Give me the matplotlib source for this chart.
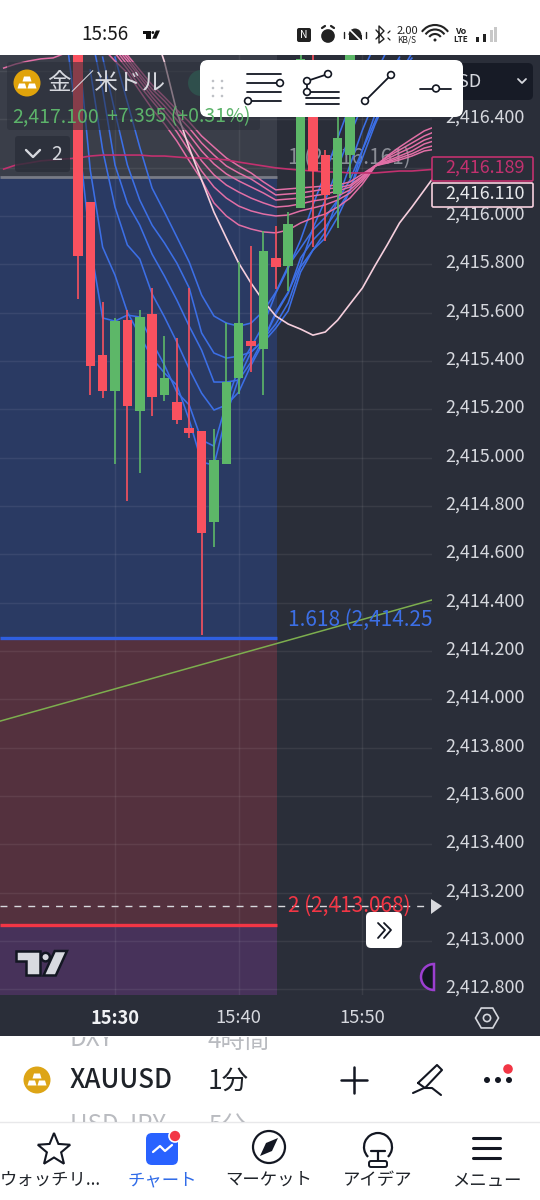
import matplotlib
matplotlib.use('Agg')
import numpy as np
import matplotlib.pyplot as plt
from matplotlib.patches import Rectangle, FancyBboxPatch, Circle, Polygon, Arc, Wedge
from matplotlib.transforms import ScaledTranslation

plt.rcParams['font.family'] = ['Noto Sans CJK JP', 'DejaVu Sans']

# candles, one per minute (minutes after 15:00)
candle_min = list(range(27, 50))
opens = [2416.728, 2416.058, 2415.425, 2415.276, 2415.569, 2415.193, 2415.594, 2415.259, 2415.230, 2415.122, 2415.110, 2414.734,
         2414.974, 2415.329, 2415.482, 2415.449, 2415.826, 2415.793, 2416.033, 2416.645, 2416.252, 2416.091, 2416.252]
closes = [2415.834, 2415.379, 2415.276, 2415.565, 2415.214, 2415.582, 2415.251, 2415.329, 2415.156, 2415.102, 2414.688, 2414.990,
          2415.313, 2415.557, 2415.462, 2415.855, 2415.789, 2415.967, 2416.649, 2416.186, 2416.086, 2416.322, 2416.707]
highs = [2416.728, 2416.058, 2415.644, 2415.578, 2415.611, 2415.611, 2415.702, 2415.503, 2415.495, 2415.702, 2415.110, 2415.118,
         2415.557, 2415.809, 2415.875, 2415.938, 2415.958, 2416.016, 2416.666, 2416.666, 2416.273, 2416.480, 2416.728]
lows = [2415.656, 2415.259, 2415.247, 2414.974, 2414.820, 2414.936, 2415.172, 2415.234, 2415.139, 2415.081, 2414.266, 2414.630,
        2414.974, 2415.263, 2415.354, 2415.259, 2415.698, 2415.689, 2416.033, 2415.871, 2415.896, 2415.950, 2416.157]

# fast moving averages (blue), value per minute from the given start minute
blue_start = [26, 27, 28, 28, 29, 30]
blue_a = [2416.769, 2416.355, 2415.880, 2415.578, 2415.565, 2415.590, 2415.582, 2415.478, 2415.383, 2415.271, 2415.218, 2415.073, 2415.048,
          2415.226, 2415.371, 2415.458, 2415.549, 2415.681, 2415.784, 2415.900, 2416.045, 2416.177, 2416.322, 2416.459, 2416.595, 2416.707]
blue_b = [2416.728, 2416.190, 2415.871, 2415.755, 2415.602, 2415.507, 2415.412, 2415.350, 2415.300, 2415.156, 2414.982, 2414.969,
          2415.176, 2415.329, 2415.437, 2415.487, 2415.602, 2415.685, 2415.797, 2415.950, 2416.066, 2416.198, 2416.335, 2416.459, 2416.583, 2416.686]
blue_c = [2416.604, 2416.273, 2416.037, 2415.880, 2415.822, 2415.677, 2415.582, 2415.478, 2415.367, 2415.267, 2415.197, 2415.218,
          2415.271, 2415.383, 2415.478, 2415.536, 2415.607, 2415.768, 2415.859, 2415.933, 2416.066, 2416.211, 2416.355, 2416.480, 2416.571, 2416.657]
blue_d = [2416.769, 2416.521, 2416.211, 2416.053, 2415.962, 2415.842, 2415.751, 2415.652, 2415.544, 2415.445, 2415.313, 2415.313,
          2415.321, 2415.396, 2415.491, 2415.553, 2415.640, 2415.789, 2415.859, 2415.909, 2415.995, 2416.107, 2416.273, 2416.417, 2416.533, 2416.645]
blue_e = [2416.657, 2416.430, 2416.211, 2416.066, 2415.962, 2415.888, 2415.805, 2415.702, 2415.516, 2415.433, 2415.412, 2415.420,
          2415.437, 2415.487, 2415.594, 2415.681, 2415.826, 2415.900, 2415.954, 2416.024, 2416.107, 2416.240, 2416.376, 2416.492, 2416.587, 2416.674]
blue_f = [2416.657, 2416.471, 2416.285, 2416.115, 2416.016, 2415.913, 2415.809, 2415.673, 2415.586, 2415.557, 2415.544, 2415.557,
          2415.607, 2415.685, 2415.793, 2415.867, 2415.942, 2415.995, 2416.066, 2416.149, 2416.273, 2416.389, 2416.500, 2416.595, 2416.653]
blue_lines = [blue_a, blue_b, blue_c, blue_d, blue_e, blue_f]

# slower averages (pink)
pink_start = [29, 30, 30, 30, 29, 21]
pink_a = [2416.695, 2416.641, 2416.592, 2416.517, 2416.443, 2416.381, 2416.310, 2416.228, 2416.149, 2416.054, 2416.000, 2415.963, 2415.946, 2415.934,
          2415.930, 2415.942, 2415.971, 2415.992, 2416.008, 2416.037, 2416.074, 2416.132, 2416.203, 2416.248, 2416.285, 2416.319, 2416.352, 2416.372]
pink_b = [2416.674, 2416.608, 2416.538, 2416.476, 2416.414, 2416.348, 2416.269, 2416.186, 2416.120, 2416.074, 2416.041, 2416.021, 2416.008, 2416.000,
          2416.004, 2416.021, 2416.033, 2416.046, 2416.066, 2416.095, 2416.145, 2416.207, 2416.244, 2416.273, 2416.302, 2416.331, 2416.352]
pink_c = [2416.691, 2416.625, 2416.559, 2416.492, 2416.434, 2416.372, 2416.302, 2416.228, 2416.170, 2416.128, 2416.099, 2416.074, 2416.054, 2416.037,
          2416.041, 2416.050, 2416.062, 2416.070, 2416.083, 2416.108, 2416.153, 2416.207, 2416.236, 2416.261, 2416.285, 2416.314, 2416.331]
pink_d = [2416.703, 2416.641, 2416.575, 2416.509, 2416.455, 2416.397, 2416.335, 2416.269, 2416.215, 2416.174, 2416.145, 2416.120, 2416.095, 2416.066,
          2416.070, 2416.074, 2416.083, 2416.091, 2416.103, 2416.120, 2416.161, 2416.207, 2416.228, 2416.248, 2416.269, 2416.298, 2416.314]
pink_e = [2416.765, 2416.716, 2416.654, 2416.587, 2416.525, 2416.476, 2416.418, 2416.364, 2416.302, 2416.252, 2416.207, 2416.178, 2416.153, 2416.120, 2416.087,
          2416.091, 2416.095, 2416.103, 2416.112, 2416.116, 2416.128, 2416.165, 2416.207, 2416.223, 2416.240, 2416.257, 2416.281, 2416.294]
pink_f = [2416.612, 2416.629, 2416.641, 2416.650, 2416.654, 2416.674, 2416.691, 2416.699, 2416.703, 2416.699, 2416.666, 2416.604, 2416.542, 2416.492, 2416.439,
          2416.389, 2416.331, 2416.285, 2416.240, 2416.207, 2416.178, 2416.141, 2416.108, 2416.112, 2416.116, 2416.120, 2416.124, 2416.128, 2416.141, 2416.174,
          2416.207, 2416.219, 2416.232, 2416.248, 2416.269, 2416.277]
pink_lines = [pink_a, pink_b, pink_c, pink_d, pink_e, pink_f]

slow_start = 21
slow_line = [2416.194, 2416.211, 2416.219, 2416.228, 2416.232, 2416.236, 2416.240, 2416.248, 2416.252, 2416.252, 2416.252, 2416.252, 2416.248, 2416.248, 2416.244,
             2416.240, 2416.240, 2416.236, 2416.232, 2416.223, 2416.215, 2416.207, 2416.199, 2416.194, 2416.190, 2416.186, 2416.182, 2416.182, 2416.178, 2416.178,
             2416.178, 2416.182, 2416.186, 2416.186, 2416.190, 2416.194]
pale_start = 33
pale_line = [2416.790, 2416.637, 2416.430, 2416.281, 2416.149, 2416.016, 2415.909, 2415.805, 2415.722, 2415.648, 2415.586, 2415.553, 2415.532, 2415.507,
             2415.520, 2415.569, 2415.636, 2415.702, 2415.793, 2415.880, 2415.971, 2416.037, 2416.107, 2416.177]

trend_min = [20.7, 55.6]
trend_price = [2413.910, 2414.411]

# fib levels
fib_one = 2416.161
fib_mid = 2414.254
fib_two = 2413.068
last_dash = 2413.145
fib_end_min = 43.1

price_ticks = [2412.8, 2413.0, 2413.2, 2413.4, 2413.6, 2413.8, 2414.0, 2414.2, 2414.4, 2414.6, 2414.8, 2415.0,
               2415.2, 2415.4, 2415.6, 2415.8, 2416.0, 2416.2, 2416.4, 2416.6]
price_hidden = [2416.2, 2416.6]
time_ticks = [30, 40, 50]
time_labels = ['15:30', '15:40', '15:50']

DARK = '#2A2E39'
RED = '#F9515F'
GREEN = '#5DB768'
BLUE = '#3C6FE6'
PINK = '#E26FA6'

fig = plt.figure(figsize=(5.4, 12), dpi=100, facecolor='white')

bg = fig.add_axes([0, 0, 1, 1], zorder=0)
bg.set_xlim(0, 540)
bg.set_ylim(1200, 0)
bg.axis('off')
bg.add_patch(Rectangle((0, 55), 540, 981, color=DARK, lw=0))

ax = fig.add_axes([0, 205 / 1200, 432 / 540, 940 / 1200], zorder=1)
ax.set_facecolor(DARK)
ax.set_xlim(20.703, 55.626)
ax.set_ylim(2412.777, 2416.666)
for s in ax.spines.values():
    s.set_visible(False)

# fib zones
ax.axhspan(fib_one, 2416.7, xmax=(fib_end_min - 20.703) / 34.923, color='#3A3E49', lw=0, zorder=0)
ax.axhspan(fib_mid, fib_one, xmax=(fib_end_min - 20.703) / 34.923, color='#2A3A63', lw=0, zorder=0)
ax.axhspan(fib_two, fib_mid, xmax=(fib_end_min - 20.703) / 34.923, color='#54313E', lw=0, zorder=0)
ax.axhspan(2412.777, fib_two, xmax=(fib_end_min - 20.703) / 34.923, color='#47325A', lw=0, zorder=0)

ax.set_yticks(price_ticks)
ax.set_yticklabels(['' if p in price_hidden else f'{p:,.3f}' for p in price_ticks])
ax.yaxis.tick_right()
ax.set_xticks(time_ticks)
ax.set_xticklabels(time_labels)
ax.tick_params(axis='y', length=0, pad=9.5, labelsize=12.9, labelcolor='#D6D8DE')
ax.tick_params(axis='x', length=0, pad=10, labelsize=13.2, labelcolor='#D6D8DE')
ax.get_xticklabels()[0].set_fontweight('bold')
ax.get_xticklabels()[0].set_color('#F0F1F4')
# price labels sit a few pixels above their grid lines
for lab in ax.get_yticklabels():
    lab.set_transform(lab.get_transform() + ScaledTranslation(0, 0.035, fig.dpi_scale_trans))
ax.grid(True, color='white', alpha=0.07, lw=1, zorder=1)
ax.set_axisbelow(True)

# fib lines and labels
ax.hlines(fib_one, 20.703, fib_end_min, color='#787B86', lw=2, zorder=2)
ax.hlines(fib_mid, 20.703, fib_end_min, color='#2F5FE0', lw=2.4, zorder=2)
ax.hlines(fib_two, 20.703, fib_end_min, color='#F23645', lw=2.4, zorder=2)
ax.plot(trend_min, trend_price, color='#7DAE4E', lw=1.1, zorder=3)
ax.hlines(last_dash, 20.703, 55.626, color='#D8D9DD', lw=1, linestyles=(0, (5, 5)), zorder=2)
ax.text(43.97, fib_one + 0.08, '1 (2,416.161)', color='#8A8D96', fontsize=15, va='center', zorder=2, clip_on=True)
ax.text(43.97, fib_mid + 0.075, '1.618 (2,414.254)', color='#3C6FE6', fontsize=15, va='center', zorder=6, clip_on=True)
ax.text(43.97, fib_two + 0.08, '2 (2,413.068)', color='#F23645', fontsize=15, va='center', zorder=6, clip_on=True)

# moving averages
for start, vals in zip(blue_start, blue_lines):
    ax.plot(np.arange(start, start + len(vals)), vals, color=BLUE, lw=1.15, zorder=3)
for start, vals in zip(pink_start, pink_lines):
    ax.plot(np.arange(start, start + len(vals)), vals, color=PINK, lw=1.1, zorder=3)
ax.plot(np.arange(slow_start, slow_start + len(slow_line)), slow_line, color='#C2316F', lw=1.2, zorder=3)
ax.plot(np.arange(pale_start, pale_start + len(pale_line)), pale_line, color='#F6CFDD', lw=1.2, zorder=3)

# candles
colors = [GREEN if c >= o else RED for o, c in zip(opens, closes)]
ax.vlines(candle_min, lows, highs, colors=colors, lw=1.2, zorder=4)
body_low = np.minimum(opens, closes)
body_h = np.abs(np.array(opens) - np.array(closes))
ax.bar(candle_min, body_h, bottom=body_low, width=0.77, color=colors, lw=0, zorder=5)

# screen furniture on top of the chart
ui = fig.add_axes([0, 0, 1, 1], zorder=3)
ui.set_xlim(0, 540)
ui.set_ylim(1200, 0)
ui.axis('off')
ui.patch.set_alpha(0)


def box(x, y, w, h, r, fc, ec='none', lw=0, alpha=None, z=2):
    p = FancyBboxPatch((x + r, y + r), w - 2 * r, h - 2 * r, boxstyle=f'round,pad={r},rounding_size={r}',
                       fc=fc, ec=ec, lw=lw, alpha=alpha, zorder=z)
    ui.add_patch(p)
    return p


def line(xs, ys, c='#131722', lw=1.3, z=4):
    ui.plot(xs, ys, color=c, lw=lw, solid_capstyle='round', zorder=z)


def dot(x, y, r, fc='white', ec='#131722', lw=1.2, z=5):
    ui.add_patch(Circle((x, y), r, fc=fc, ec=ec, lw=lw, zorder=z))


def tv_logo(x, y, s, fc, ec='none', lw=0, z=4):
    ui.add_patch(Polygon([(x, y), (x + 24 * s, y), (x + 24 * s, y + 24 * s), (x + 10 * s, y + 24 * s), (x + 10 * s, y + 10 * s), (x, y + 10 * s)],
                         fc=fc, ec=ec, lw=lw, zorder=z))
    ui.add_patch(Circle((x + 29 * s, y + 6 * s), 4.2 * s, fc=fc, ec=ec, lw=lw, zorder=z))
    ui.add_patch(Polygon([(x + 38 * s, y), (x + 50 * s, y), (x + 39 * s, y + 24 * s), (x + 27 * s, y + 24 * s)], fc=fc, ec=ec, lw=lw, zorder=z))


def ingots(cx, cy, r, bg_col, fg):
    ui.add_patch(Circle((cx, cy), r, fc=bg_col, lw=0, zorder=4))
    for dx, dy in [(0, -4), (-5, 3), (5, 3)]:
        ui.add_patch(Polygon([(cx + dx - 3, cy + dy - 2.5), (cx + dx + 3, cy + dy - 2.5), (cx + dx + 4.5, cy + dy + 2.5), (cx + dx - 4.5, cy + dy + 2.5)],
                             fc=fg, lw=0, zorder=5))


# status bar
ui.add_patch(Rectangle((0, 0), 540, 55, color='white', lw=0, zorder=1))
ui.text(105, 34.5, '15:56', fontsize=13.6, color='#1a1a1a', ha='center', va='center')
tv_logo(143, 30.5, 0.34, '#111111')
box(297, 28, 14, 14, 2, '#222222', z=3)
ui.text(304, 35, 'N', fontsize=7.5, color='white', ha='center', va='center', zorder=4)
dot(328, 36, 6, fc='#222222', ec='#222222')
line([322, 325], [28, 26], c='#222222', lw=1.6)
line([331, 334], [26, 28], c='#222222', lw=1.6)
ui.add_patch(Wedge((355, 35), 6.5, 180, 360, fc='#222222', lw=0, zorder=4))
ui.add_patch(Rectangle((348.5, 35), 13, 5, fc='#222222', lw=0, zorder=4))
line([347, 363], [27, 43], c='white', lw=1.2, z=5)
line([344, 344], [32, 38], c='#222222', lw=1)
line([366, 366], [32, 38], c='#222222', lw=1)
line([376, 384, 379, 379, 384, 376], [30, 39, 43, 26, 31, 39], c='#222222', lw=1)
line([388, 390], [33, 31], c='#222222', lw=0.9)
line([388, 390], [38, 40], c='#222222', lw=0.9)
ui.text(407, 31, '2.00', fontsize=8, color='#222222', ha='center', va='center')
ui.text(407, 40, 'KB/S', fontsize=6, color='#222222', ha='center', va='center')
for r_ in [16, 11.5, 7]:
    ui.add_patch(Arc((435, 41), r_ * 2, r_ * 2, theta1=215, theta2=325, ec='#222222', lw=1.5, zorder=4))
dot(435, 40, 1.5, fc='#222222', ec='#222222', lw=0)
ui.text(461, 31, 'Vo', fontsize=6.5, color='#222222', ha='center', va='center', fontweight='bold')
ui.text(461, 39, 'LTE', fontsize=5.8, color='#222222', ha='center', va='center', fontweight='bold')
for bx, btop, bc in [(476, 37, '#222222'), (483, 34, '#222222'), (490, 30, '#C8C8C8'), (494, 27, '#C8C8C8')]:
    ui.add_patch(Rectangle((bx, btop), 3.4, 42 - btop, color=bc, lw=0, zorder=4))

# legend block
box(7, 62, 253, 68, 3, '#2A2E39', alpha=0.55, z=2)
ingots(27, 83, 13.5, '#E0A30B', 'white')
ui.text(47, 83, '金／米ドル', fontsize=17, color='#D6D8DE', va='center', zorder=4)
ui.text(12, 117, '2,417.100', fontsize=14, color='#5CB36A', va='center', zorder=4)
ui.text(107, 117, '+7.395 (+0.31%)', fontsize=14, color='#5CB36A', va='center', zorder=4)
box(15, 136, 55, 36, 3, '#2A2E39', alpha=0.8, z=2)
line([26, 33, 40], [150, 157, 150], c='#D6D8DE', lw=1.7)
ui.text(57, 154, '2', fontsize=14, color='#D6D8DE', ha='center', va='center', zorder=4)

# green icon peeking out from behind the toolbar
ui.add_patch(Circle((201, 83), 13, fc='#2F4F4C', lw=0, zorder=2))

# USD button
box(432, 63, 101, 37, 5, '#171B26', z=2)
ui.text(463, 82, 'USD', fontsize=13, color='#D6D8DE', ha='center', va='center', zorder=3)
line([518, 522, 526], [79, 83, 79], c='#D6D8DE', lw=1.3)

# drawing toolbar
box(200, 60, 263, 57, 8, 'white', z=3)
for gx in [213, 222]:
    for gy in [81, 88, 96]:
        ui.add_patch(Circle((gx, gy), 1.3, fc='#BFC1C6', lw=0, zorder=4))
for ly in [74, 83, 92, 101]:
    line([247, 281], [ly, ly])
dot(280, 83, 3.4)
dot(248, 101, 3.4)
for ly in [92, 98, 104]:
    line([306, 339], [ly, ly])
line([307, 328], [81, 74])
line([307, 307], [81, 92])
dot(307, 81, 3.4)
dot(328, 74, 3.4)
dot(307, 92, 3.4)
line([365, 391], [101, 75])
dot(391, 75, 3.4)
dot(365, 101, 3.4)
line([420, 451], [88.5, 88.5])
dot(436, 88.5, 3.4)

# price badges
box(432, 157, 101, 24, 1.5, DARK, ec='#C2316F', lw=1.2, z=2)
ui.text(485, 168, '2,416.189', fontsize=12.9, color='#C2316F', ha='center', va='center', zorder=3)
box(432, 183, 101, 24, 1.5, DARK, ec='#F6CFDD', lw=1.2, z=2)
ui.text(485, 193.5, '2,416.110', fontsize=12.9, color='#E8E9EC', ha='center', va='center', zorder=3)

# last price arrow, scroll button, logo, avatar
ui.add_patch(Polygon([(431, 899), (442, 906), (431, 914)], fc='#D8D9DD', lw=0, zorder=3))
box(366, 912, 36, 36, 5, 'white', z=3)
line([378, 385, 378], [923, 930, 938], c='#131722', lw=1.3)
line([384, 391, 384], [923, 930, 938], c='#131722', lw=1.3)
tv_logo(16, 951, 1.02, '#D8DAE0', ec='#131722', lw=1.8)
ui.add_patch(Wedge((434, 977), 13, 90, 270, fc='#131722', ec='#9C3FD0', lw=1.8, zorder=2))

# settings hexagon
hex_a = np.deg2rad(np.arange(0, 360, 60))
ui.add_patch(Polygon(np.c_[487 + 11.5 * np.cos(hex_a), 1018 + 11.5 * np.sin(hex_a)], fc='none', ec='#D6D8DE', lw=1.2, zorder=3))
ui.add_patch(Circle((487, 1018), 3.6, fc='none', ec='#D6D8DE', lw=1.2, zorder=3))

# white panel below the chart, the picker rows above and below are cut off
ui.add_patch(Rectangle((0, 1036), 540, 164, color='white', lw=0, zorder=1))
ui.plot([0, 540], [1122, 1122], color='#E8E8EA', lw=1, zorder=2)
clip_top = Rectangle((0, 1037), 540, 17, transform=ui.transData)
clip_low = Rectangle((0, 1104), 540, 18, transform=ui.transData)
for tx, ty, s, clip in [(70, 1039, 'DXY', clip_top), (208, 1041, '4時間', clip_top), (70, 1125, 'USD JPY', clip_low), (208, 1126, '5分', clip_low)]:
    t = ui.text(tx, ty, s, fontsize=17.5, color='#B9BBC0', va='center', zorder=3)
    t.set_clip_on(True)
    t.set_clip_path(clip)
ingots(37, 1080, 13.5, '#DDA516', 'white')
ui.text(70, 1080, 'XAUUSD', fontsize=18.6, color='#1F2329', va='center', zorder=3, fontweight='medium')
ui.text(208, 1081, '1分', fontsize=19, color='#1F2329', va='center', zorder=3)
line([341, 367], [1080, 1080], lw=1.8)
line([354, 354], [1067, 1093], lw=1.8)
line([418, 437, 442, 425, 418], [1083, 1065, 1070, 1088, 1083], lw=1.5)
line([413, 424, 432, 441], [1093, 1088, 1088, 1095], lw=1.5)
for dx in [487, 498, 509]:
    ui.add_patch(Circle((dx, 1080), 3, fc='#131722', lw=0, zorder=4))
ui.add_patch(Circle((508, 1069), 4.8, fc='#F23645', lw=0, zorder=5))

# nav bar
star_a = np.deg2rad(np.arange(-90, 270, 36))
star_r = np.array([17, 7.5] * 5)
ui.add_patch(Polygon(np.c_[54 + star_r * np.cos(star_a), 1150 + star_r * np.sin(star_a)], fc='none', ec='#131722', lw=1.5, zorder=4))
box(146, 1133, 32, 32, 6, '#2962FF', z=4)
line([153, 160, 165, 172], [1152, 1146, 1151, 1145], c='white', lw=1.6, z=5)
ui.add_patch(Circle((175, 1136), 6, fc='#F23645', ec='white', lw=1.2, zorder=6))
ui.add_patch(Circle((269, 1147), 16, fc='none', ec='#131722', lw=1.6, zorder=4))
ui.add_patch(Polygon([(278, 1138), (272, 1151), (260, 1156), (266, 1143)], fc='#131722', lw=0, zorder=4))
ui.add_patch(Arc((378, 1147), 28, 28, theta1=135, theta2=45, ec='#131722', lw=1.6, zorder=4))
line([371, 385], [1151, 1151], lw=1.6)
line([378, 378], [1151, 1160], lw=1.6)
box(369, 1161, 18, 6, 2, 'white', ec='#131722', lw=1.4, z=4)
for my in [1138, 1148, 1158]:
    line([473, 500], [my, my], lw=2.2)
nav_x = [50, 162, 269, 378, 487]
nav_text = ['ウォッチリ...', 'チャート', 'マーケット', 'アイデア', 'メニュー']
nav_col = ['#1F2329', '#2F6BE8', '#1F2329', '#1F2329', '#1F2329']
for nx, nt, nc in zip(nav_x, nav_text, nav_col):
    ui.text(nx, 1180, nt, fontsize=12.5, color=nc, ha='center', va='center', zorder=4)

fig.savefig('out.png', dpi=100)
